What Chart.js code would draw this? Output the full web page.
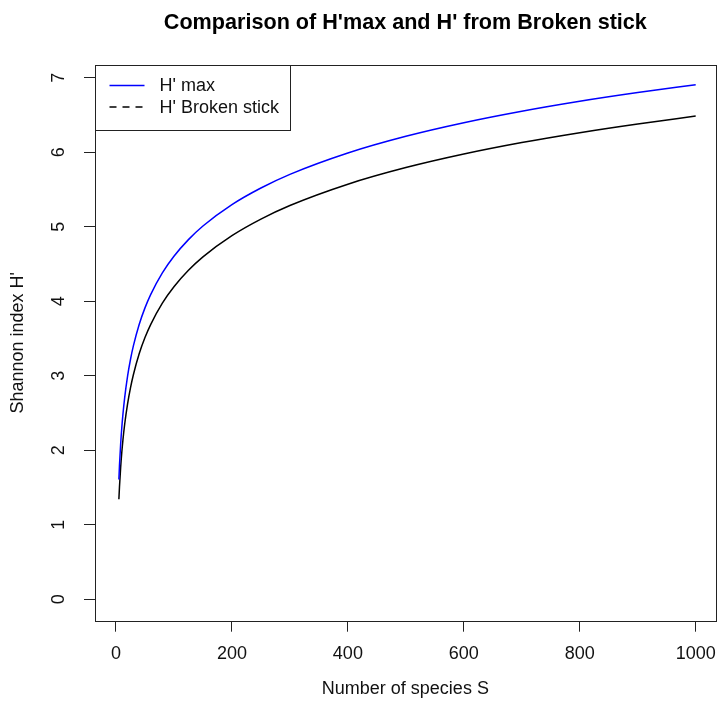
<!DOCTYPE html>
<html>
<head>
<meta charset="utf-8">
<script src="https://cdn.jsdelivr.net/npm/chart.js@4/dist/chart.umd.min.js"></script>
<style>
  body { margin: 0; background: #fff; }
  canvas { display: block; }
</style>
</head>
<body>
<canvas id="mainChart" width="719" height="709"></canvas>
<script>
// number of species and the two Shannon curves
let species = [5, 6, 8, 10, 12, 15, 20, 25, 30, 40, 50, 60, 80, 100, 125, 150, 200, 250, 300, 400, 500, 600, 700, 800, 900, 1000];
let hMax = [1.609, 1.792, 2.079, 2.303, 2.485, 2.708, 2.996, 3.219, 3.401, 3.689, 3.912, 4.094, 4.382, 4.605, 4.828, 5.011, 5.298, 5.521, 5.704, 5.991, 6.215, 6.397, 6.551, 6.685, 6.802, 6.908];
let hBroken = [1.343, 1.505, 1.764, 1.970, 2.140, 2.350, 2.624, 2.838, 3.014, 3.295, 3.513, 3.691, 3.975, 4.195, 4.416, 4.597, 4.882, 5.104, 5.286, 5.572, 5.795, 5.977, 6.131, 6.264, 6.381, 6.487];

let xTicks = [0, 200, 400, 600, 800, 1000];
let yTicks = [0, 1, 2, 3, 4, 5, 6, 7];

let seriesNames = ["H' max", "H' Broken stick"];
let titleText = "Comparison of H'max and H' from Broken stick";

const FONT = '"Liberation Sans", Arial, Helvetica, sans-serif';

function points(ys) {
    return species.map((s, i) => ({ x: s, y: ys[i] }));
}

// plot box, legend and title drawn on top of the chart area
const frame = {
    id: 'frame',
    afterDraw(chart) {
        let ctx = chart.ctx;
        let a = chart.chartArea;
        ctx.save();

        ctx.strokeStyle = '#222';
        ctx.lineWidth = 1;
        ctx.strokeRect(Math.round(a.left) + 0.5, Math.round(a.top) + 0.5,
            Math.round(a.right - a.left), Math.round(a.bottom - a.top));

        // legend box in the top left corner
        let lx = Math.round(a.left) + 0.5, ly = Math.round(a.top) + 0.5;
        ctx.fillStyle = '#fff';
        ctx.fillRect(lx, ly, 195, 65);
        ctx.strokeRect(lx, ly, 195, 65);

        let rows = [
            { text: seriesNames[0], color: '#0000ff', dash: [], y: ly + 20 },
            { text: seriesNames[1], color: '#000000', dash: [7, 6], y: ly + 41.5 }
        ];
        ctx.font = '18px ' + FONT;
        ctx.textBaseline = 'middle';
        ctx.textAlign = 'left';
        rows.forEach(r => {
            ctx.beginPath();
            ctx.setLineDash(r.dash);
            ctx.strokeStyle = r.color;
            ctx.lineWidth = 1.5;
            ctx.moveTo(lx + 14, r.y);
            ctx.lineTo(lx + 49, r.y);
            ctx.stroke();
            ctx.setLineDash([]);
            ctx.fillStyle = '#111';
            ctx.fillText(r.text, lx + 64, r.y + 1);
        });

        ctx.font = 'bold 21.6px ' + FONT;
        ctx.textAlign = 'center';
        ctx.fillStyle = '#000';
        ctx.fillText(titleText, (a.left + a.right) / 2, 23);
        ctx.restore();
    }
};

let ctx = document.getElementById('mainChart').getContext('2d');

window.chart = new Chart(ctx, {
    type: 'line',
    data: {
        datasets: [{
            label: seriesNames[0],
            data: points(hMax),
            borderColor: '#0000ff',
            borderWidth: 1.5,
            pointRadius: 0,
            cubicInterpolationMode: 'monotone'
        }, {
            label: seriesNames[1],
            data: points(hBroken),
            borderColor: '#000000',
            borderWidth: 1.5,
            pointRadius: 0,
            cubicInterpolationMode: 'monotone'
        }]
    },
    options: {
        responsive: false,
        animation: false,
        layout: { padding: { top: 65, right: 3.3, left: 0, bottom: 0 } },
        plugins: {
            legend: { display: false },
            title: { display: false },
            tooltip: { enabled: false }
        },
        scales: {
            x: {
                type: 'linear',
                min: -36.2,
                max: 1034.5,
                afterBuildTicks: s => { s.ticks = xTicks.map(v => ({ value: v })); },
                afterFit: s => { s.height = 88.3; s.paddingLeft = 0; s.paddingRight = 0; },
                grid: { drawOnChartArea: false, drawTicks: true, tickLength: 11, color: '#222', lineWidth: 1 },
                border: { display: false },
                ticks: {
                    autoSkip: false, maxRotation: 0, padding: 12,
                    color: '#111', font: { family: FONT, size: 18 },
                    callback: v => String(v)
                },
                title: {
                    display: true, text: 'Number of species S', color: '#111',
                    font: { family: FONT, size: 18 }, padding: { top: 0, bottom: 9 }
                }
            },
            y: {
                type: 'linear',
                min: -0.287,
                max: 7.172,
                afterBuildTicks: s => { s.ticks = yTicks.map(v => ({ value: v })); },
                afterFit: s => { s.width = 95; s.paddingTop = 0; s.paddingBottom = 0; },
                grid: { drawOnChartArea: false, drawTicks: true, tickLength: 11, color: '#222', lineWidth: 1 },
                border: { display: false },
                ticks: {
                    autoSkip: false, minRotation: 90, maxRotation: 90,
                    crossAlign: 'center', padding: 20,
                    color: '#111', font: { family: FONT, size: 18 },
                    callback: v => String(v)
                },
                title: {
                    display: true, text: "Shannon index H'", color: '#111',
                    font: { family: FONT, size: 18 }, padding: { top: 7, bottom: 0 }
                }
            }
        }
    },
    plugins: [frame]
});
</script>
</body>
</html>
